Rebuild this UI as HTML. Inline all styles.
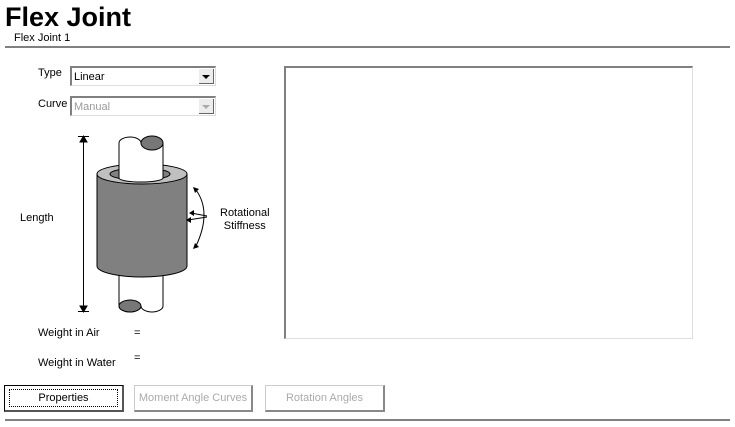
<!DOCTYPE html>
<html><head><meta charset="utf-8"><style>
body{margin:0;width:735px;height:427px;background:#fff;position:relative;overflow:hidden;font-family:"Liberation Sans",Arial,sans-serif;font-size:11px;color:#000}
.a{position:absolute;white-space:nowrap}
.dd{position:absolute;height:20px;border-top:2px solid #808080;border-left:2px solid #808080;border-right:1px solid #ddd;border-bottom:1px solid #ddd;box-sizing:border-box;background:#fff}
.dd span{position:absolute;left:2px;top:3px}
.btn{position:absolute;right:1px;top:1px;width:15px;height:15px;background:#ececec;border-right:1px solid #666;border-bottom:1px solid #666;box-sizing:border-box}
.btn:after{content:"";position:absolute;left:3px;top:6px;border-left:4px solid transparent;border-right:4px solid transparent;border-top:4px solid #000}
.dis .btn:after{border-top-color:#aaa}
.b{position:absolute;height:27px;box-sizing:border-box;background:#fff;border:1px solid #ccc;border-right:2px solid #888;border-bottom:2px solid #888;text-align:center;line-height:24px}
</style></head><body>
<div class="a" style="left:5px;top:2px;font-size:27px;font-weight:bold">Flex Joint</div>
<div class="a" style="left:14px;top:32px">Flex Joint 1</div>
<div class="a" style="left:5px;top:46px;width:725px;height:2px;background:#808080"></div>

<div class="a" style="left:38px;top:67px">Type</div>
<div class="dd" style="left:70px;top:66px;width:146px"><span>Linear</span><div class="btn"></div></div>
<div class="a" style="left:38px;top:98px">Curve</div>
<div class="dd dis" style="left:70px;top:96px;width:146px;color:#999"><span>Manual</span><div class="btn"></div></div>

<svg class="a" style="left:0;top:0" width="735" height="427">
<g stroke="#000" stroke-width="1">
<line x1="83.5" y1="137" x2="83.5" y2="311"/>
<line x1="78" y1="136.5" x2="89" y2="136.5"/>
<line x1="78" y1="311.5" x2="89" y2="311.5"/>
<polygon points="80,142 87,142 83.5,136" fill="#000"/>
<polygon points="80,306 87,306 83.5,312" fill="#000"/>
<path d="M119,262 L119,306 A11,6 0 0 0 141,306 A11,6 0 0 0 163,306 L163,262 Z" fill="#fff"/>
<ellipse cx="130" cy="306" rx="11" ry="6" fill="#777"/>
<path d="M97,174 L97,266 A45,11 0 0 0 187,266 L187,174 Z" fill="#808080"/>
<ellipse cx="142" cy="174" rx="45" ry="10" fill="#c0c0c0"/>
<ellipse cx="140" cy="174" rx="30" ry="6" fill="#808080"/>
<path d="M119,178 L119,143 A11,6 0 0 1 141,143 L163,143 L163,178 A22,4 0 0 1 119,178 Z" fill="#fff"/>
<ellipse cx="152" cy="143" rx="11" ry="7" fill="#777"/>
<path d="M196,190 Q212,212 196,246" fill="none"/>
<line x1="207" y1="216" x2="191" y2="213"/>
<line x1="207" y1="217" x2="188" y2="220"/>
</g>
<g fill="#000">
<polygon points="193,187 199,189 195,193"/>
<polygon points="193,249 199,247 195,243"/>
<polygon points="189,213 194,210 194,216"/>
<polygon points="186,220 191,217 191,223"/>
</g>
</svg>
<div class="a" style="left:20px;top:212px">Length</div>
<div class="a" style="left:220px;top:207px;text-align:center;line-height:13px">Rotational<br>Stiffness</div>

<div class="a" style="left:38px;top:327px">Weight in Air</div>
<div class="a" style="left:134px;top:327px">=</div>
<div class="a" style="left:38px;top:357px">Weight in Water</div>
<div class="a" style="left:134px;top:352px">=</div>

<div class="a" style="left:284px;top:66px;width:409px;height:273px;box-sizing:border-box;border-top:2px solid #808080;border-left:2px solid #808080;border-right:1px solid #ddd;border-bottom:1px solid #ddd"></div>

<div class="b" style="left:4px;top:385px;width:120px;border:1px solid #000;border-right:2px solid #555;border-bottom:2px solid #555"><div style="position:absolute;left:4px;top:3px;right:4px;bottom:3px;border:1px dotted #000;line-height:17px">Properties</div></div>
<div class="b" style="left:134px;top:385px;width:119px;color:#aaa">Moment Angle Curves</div>
<div class="b" style="left:265px;top:385px;width:120px;color:#aaa">Rotation Angles</div>
<div class="a" style="left:5px;top:419px;width:725px;height:2px;background:#808080"></div>
</body></html>
